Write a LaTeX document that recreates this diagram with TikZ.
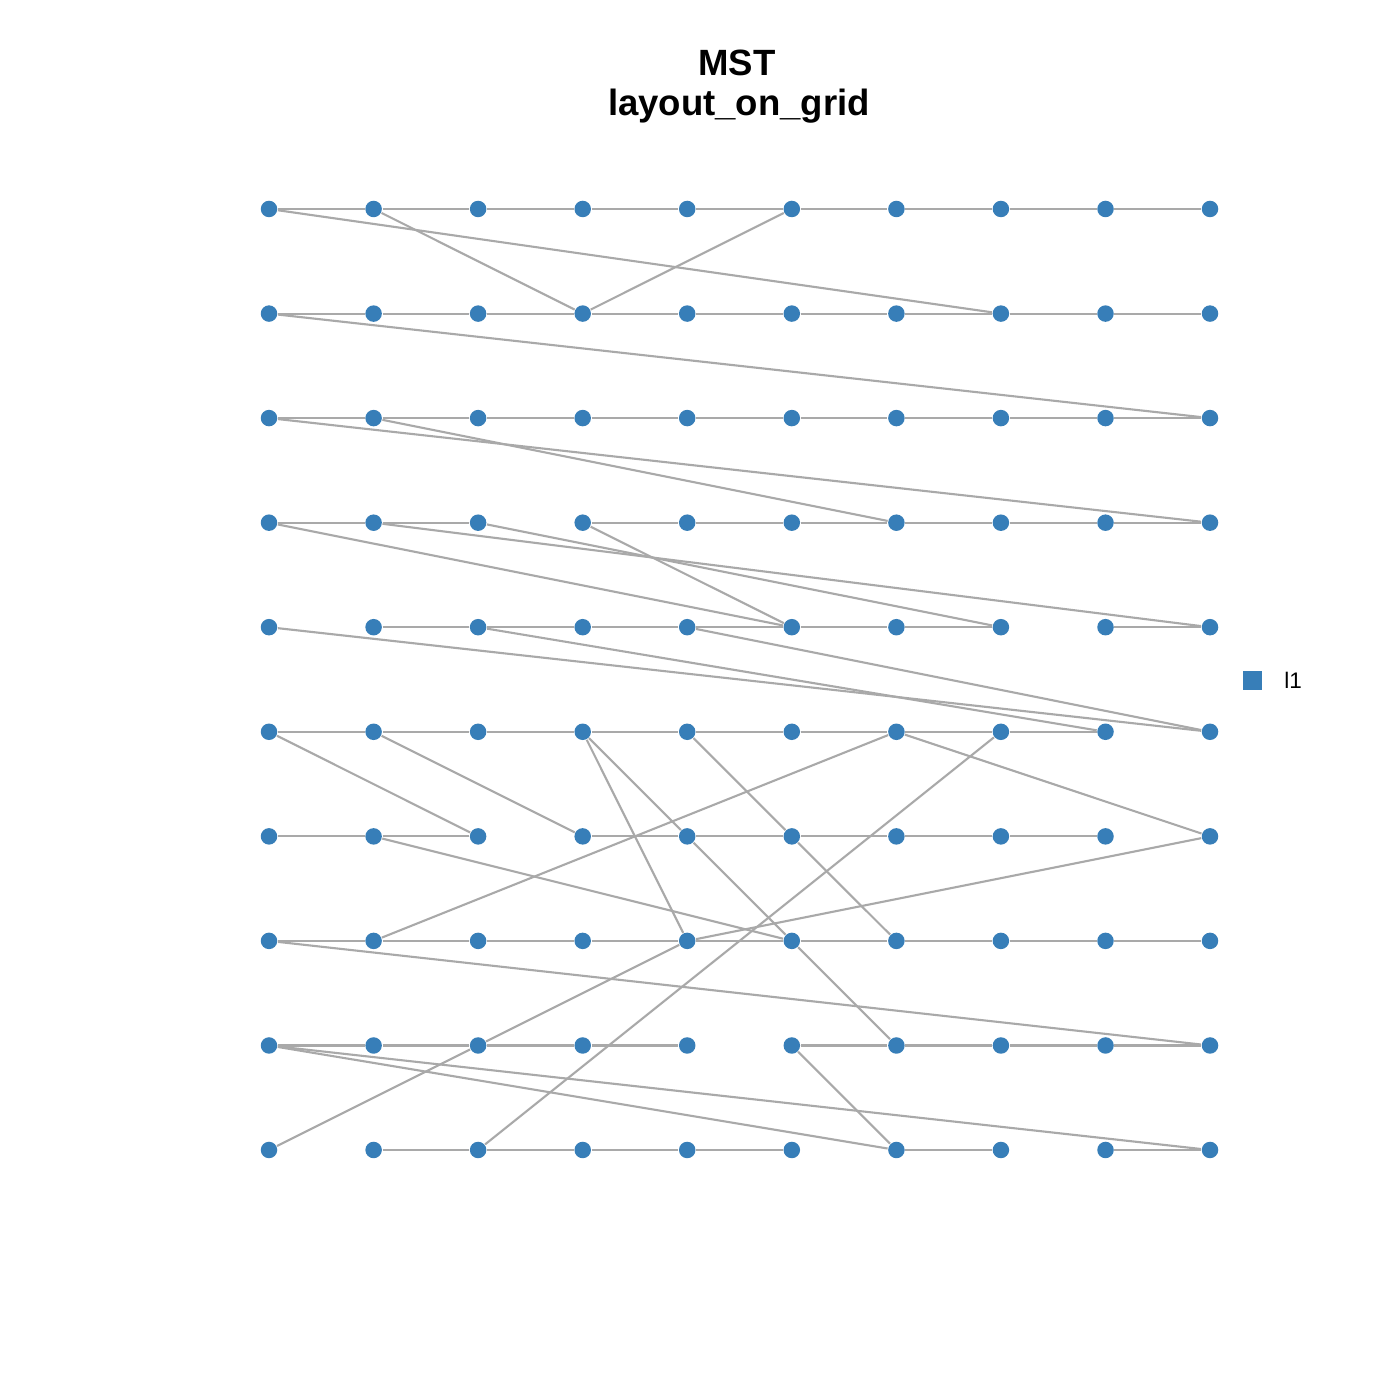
\documentclass[tikz,border=0pt]{standalone}
\usepackage{fontspec}
\setmainfont{Liberation Sans}
\definecolor{setblue}{HTML}{377EB8}
\definecolor{edgegrey}{HTML}{A9A9A9}
\tikzset{
  vertex/.style={circle, fill=setblue, draw=none, minimum size=0.165cm, inner sep=0pt},
  link/.style={draw=edgegrey, line width=0.6pt},
  keybox/.style={fill=setblue, draw=none, minimum size=0.19cm, inner sep=0pt}
}

\begin{document}
\begin{tikzpicture}
  \useasboundingbox[fill=white] (0cm,0cm) rectangle (14cm,14cm);
  \node[anchor=base, font=\bfseries\fontsize{10.4}{12}\selectfont] (title) at (7.37cm,13.24cm) {MST};
  \node[anchor=base, font=\bfseries\fontsize{10.4}{12}\selectfont] (subtitle) at (7.39cm,12.84cm) {layout\_on\_grid};
  \node[vertex] (n1-1) at (2.690cm,11.910cm) {};
  \node[vertex] (n1-2) at (3.736cm,11.910cm) {};
  \node[vertex] (n1-3) at (4.781cm,11.910cm) {};
  \node[vertex] (n1-4) at (5.827cm,11.910cm) {};
  \node[vertex] (n1-5) at (6.872cm,11.910cm) {};
  \node[vertex] (n1-6) at (7.918cm,11.910cm) {};
  \node[vertex] (n1-7) at (8.964cm,11.910cm) {};
  \node[vertex] (n1-8) at (10.009cm,11.910cm) {};
  \node[vertex] (n1-9) at (11.055cm,11.910cm) {};
  \node[vertex] (n1-10) at (12.100cm,11.910cm) {};
  \node[vertex] (n2-1) at (2.690cm,10.864cm) {};
  \node[vertex] (n2-2) at (3.736cm,10.864cm) {};
  \node[vertex] (n2-3) at (4.781cm,10.864cm) {};
  \node[vertex] (n2-4) at (5.827cm,10.864cm) {};
  \node[vertex] (n2-5) at (6.872cm,10.864cm) {};
  \node[vertex] (n2-6) at (7.918cm,10.864cm) {};
  \node[vertex] (n2-7) at (8.964cm,10.864cm) {};
  \node[vertex] (n2-8) at (10.009cm,10.864cm) {};
  \node[vertex] (n2-9) at (11.055cm,10.864cm) {};
  \node[vertex] (n2-10) at (12.100cm,10.864cm) {};
  \node[vertex] (n3-1) at (2.690cm,9.819cm) {};
  \node[vertex] (n3-2) at (3.736cm,9.819cm) {};
  \node[vertex] (n3-3) at (4.781cm,9.819cm) {};
  \node[vertex] (n3-4) at (5.827cm,9.819cm) {};
  \node[vertex] (n3-5) at (6.872cm,9.819cm) {};
  \node[vertex] (n3-6) at (7.918cm,9.819cm) {};
  \node[vertex] (n3-7) at (8.964cm,9.819cm) {};
  \node[vertex] (n3-8) at (10.009cm,9.819cm) {};
  \node[vertex] (n3-9) at (11.055cm,9.819cm) {};
  \node[vertex] (n3-10) at (12.100cm,9.819cm) {};
  \node[vertex] (n4-1) at (2.690cm,8.773cm) {};
  \node[vertex] (n4-2) at (3.736cm,8.773cm) {};
  \node[vertex] (n4-3) at (4.781cm,8.773cm) {};
  \node[vertex] (n4-4) at (5.827cm,8.773cm) {};
  \node[vertex] (n4-5) at (6.872cm,8.773cm) {};
  \node[vertex] (n4-6) at (7.918cm,8.773cm) {};
  \node[vertex] (n4-7) at (8.964cm,8.773cm) {};
  \node[vertex] (n4-8) at (10.009cm,8.773cm) {};
  \node[vertex] (n4-9) at (11.055cm,8.773cm) {};
  \node[vertex] (n4-10) at (12.100cm,8.773cm) {};
  \node[vertex] (n5-1) at (2.690cm,7.728cm) {};
  \node[vertex] (n5-2) at (3.736cm,7.728cm) {};
  \node[vertex] (n5-3) at (4.781cm,7.728cm) {};
  \node[vertex] (n5-4) at (5.827cm,7.728cm) {};
  \node[vertex] (n5-5) at (6.872cm,7.728cm) {};
  \node[vertex] (n5-6) at (7.918cm,7.728cm) {};
  \node[vertex] (n5-7) at (8.964cm,7.728cm) {};
  \node[vertex] (n5-8) at (10.009cm,7.728cm) {};
  \node[vertex] (n5-9) at (11.055cm,7.728cm) {};
  \node[vertex] (n5-10) at (12.100cm,7.728cm) {};
  \node[vertex] (n6-1) at (2.690cm,6.682cm) {};
  \node[vertex] (n6-2) at (3.736cm,6.682cm) {};
  \node[vertex] (n6-3) at (4.781cm,6.682cm) {};
  \node[vertex] (n6-4) at (5.827cm,6.682cm) {};
  \node[vertex] (n6-5) at (6.872cm,6.682cm) {};
  \node[vertex] (n6-6) at (7.918cm,6.682cm) {};
  \node[vertex] (n6-7) at (8.964cm,6.682cm) {};
  \node[vertex] (n6-8) at (10.009cm,6.682cm) {};
  \node[vertex] (n6-9) at (11.055cm,6.682cm) {};
  \node[vertex] (n6-10) at (12.100cm,6.682cm) {};
  \node[vertex] (n7-1) at (2.690cm,5.636cm) {};
  \node[vertex] (n7-2) at (3.736cm,5.636cm) {};
  \node[vertex] (n7-3) at (4.781cm,5.636cm) {};
  \node[vertex] (n7-4) at (5.827cm,5.636cm) {};
  \node[vertex] (n7-5) at (6.872cm,5.636cm) {};
  \node[vertex] (n7-6) at (7.918cm,5.636cm) {};
  \node[vertex] (n7-7) at (8.964cm,5.636cm) {};
  \node[vertex] (n7-8) at (10.009cm,5.636cm) {};
  \node[vertex] (n7-9) at (11.055cm,5.636cm) {};
  \node[vertex] (n7-10) at (12.100cm,5.636cm) {};
  \node[vertex] (n8-1) at (2.690cm,4.591cm) {};
  \node[vertex] (n8-2) at (3.736cm,4.591cm) {};
  \node[vertex] (n8-3) at (4.781cm,4.591cm) {};
  \node[vertex] (n8-4) at (5.827cm,4.591cm) {};
  \node[vertex] (n8-5) at (6.872cm,4.591cm) {};
  \node[vertex] (n8-6) at (7.918cm,4.591cm) {};
  \node[vertex] (n8-7) at (8.964cm,4.591cm) {};
  \node[vertex] (n8-8) at (10.009cm,4.591cm) {};
  \node[vertex] (n8-9) at (11.055cm,4.591cm) {};
  \node[vertex] (n8-10) at (12.100cm,4.591cm) {};
  \node[vertex] (n9-1) at (2.690cm,3.545cm) {};
  \node[vertex] (n9-2) at (3.736cm,3.545cm) {};
  \node[vertex] (n9-3) at (4.781cm,3.545cm) {};
  \node[vertex] (n9-4) at (5.827cm,3.545cm) {};
  \node[vertex] (n9-5) at (6.872cm,3.545cm) {};
  \node[vertex] (n9-6) at (7.918cm,3.545cm) {};
  \node[vertex] (n9-7) at (8.964cm,3.545cm) {};
  \node[vertex] (n9-8) at (10.009cm,3.545cm) {};
  \node[vertex] (n9-9) at (11.055cm,3.545cm) {};
  \node[vertex] (n9-10) at (12.100cm,3.545cm) {};
  \node[vertex] (n10-1) at (2.690cm,2.500cm) {};
  \node[vertex] (n10-2) at (3.736cm,2.500cm) {};
  \node[vertex] (n10-3) at (4.781cm,2.500cm) {};
  \node[vertex] (n10-4) at (5.827cm,2.500cm) {};
  \node[vertex] (n10-5) at (6.872cm,2.500cm) {};
  \node[vertex] (n10-6) at (7.918cm,2.500cm) {};
  \node[vertex] (n10-7) at (8.964cm,2.500cm) {};
  \node[vertex] (n10-8) at (10.009cm,2.500cm) {};
  \node[vertex] (n10-9) at (11.055cm,2.500cm) {};
  \node[vertex] (n10-10) at (12.100cm,2.500cm) {};
  \draw[link] (n1-1) -- (n1-2) -- (n1-3) -- (n1-4) -- (n1-5) -- (n1-6) -- (n1-7) -- (n1-8) -- (n1-9) -- (n1-10);
  \draw[link] (n2-1) -- (n2-2) -- (n2-3) -- (n2-4) -- (n2-5) -- (n2-6) -- (n2-7) -- (n2-8) -- (n2-9) -- (n2-10);
  \draw[link] (n3-1) -- (n3-2) -- (n3-3) -- (n3-4) -- (n3-5) -- (n3-6) -- (n3-7) -- (n3-8) -- (n3-9) -- (n3-10);
  \draw[link] (n4-1) -- (n4-2) -- (n4-3);
  \draw[link] (n4-4) -- (n4-5) -- (n4-6) -- (n4-7) -- (n4-8) -- (n4-9) -- (n4-10);
  \draw[link] (n5-2) -- (n5-3) -- (n5-4) -- (n5-5) -- (n5-6) -- (n5-7) -- (n5-8);
  \draw[link] (n5-9) -- (n5-10);
  \draw[link] (n6-1) -- (n6-2) -- (n6-3) -- (n6-4) -- (n6-5) -- (n6-6) -- (n6-7) -- (n6-8) -- (n6-9);
  \draw[link] (n7-1) -- (n7-2) -- (n7-3);
  \draw[link] (n7-4) -- (n7-5) -- (n7-6) -- (n7-7) -- (n7-8) -- (n7-9);
  \draw[link] (n8-1) -- (n8-2) -- (n8-3) -- (n8-4) -- (n8-5) -- (n8-6) -- (n8-7) -- (n8-8) -- (n8-9) -- (n8-10);
  \draw[link] (n9-1) -- (n9-2) -- (n9-3) -- (n9-4) -- (n9-5);
  \draw[link] (n9-6) -- (n9-7) -- (n9-8) -- (n9-9) -- (n9-10);
  \draw[link] (n10-2) -- (n10-3) -- (n10-4) -- (n10-5) -- (n10-6);
  \draw[link] (n10-7) -- (n10-8);
  \draw[link] (n10-9) -- (n10-10);
  \draw[link] (n1-1) -- (n2-8);
  \draw[link] (n1-2) -- (n2-4);
  \draw[link] (n2-4) -- (n1-6);
  \draw[link] (n2-1) -- (n3-10);
  \draw[link] (n3-1) -- (n4-10);
  \draw[link] (n3-2) -- (n4-7);
  \draw[link] (n4-1) -- (n5-6);
  \draw[link] (n4-2) -- (n5-10);
  \draw[link] (n4-3) -- (n5-8);
  \draw[link] (n4-4) -- (n5-6);
  \draw[link] (n5-1) -- (n6-10);
  \draw[link] (n5-3) -- (n6-9);
  \draw[link] (n5-5) -- (n6-10);
  \draw[link] (n6-1) -- (n7-3);
  \draw[link] (n6-2) -- (n7-4);
  \draw[link] (n6-4) -- (n8-5);
  \draw[link] (n6-4) -- (n7-5) -- (n8-6) -- (n9-7);
  \draw[link] (n6-5) -- (n7-6) -- (n8-7);
  \draw[link] (n6-7) -- (n7-10);
  \draw[link] (n6-7) -- (n8-2);
  \draw[link] (n6-8) -- (n10-3);
  \draw[link] (n7-2) -- (n8-6);
  \draw[link] (n7-10) -- (n8-5);
  \draw[link] (n8-1) -- (n9-10);
  \draw[link] (n8-5) -- (n9-3) -- (n10-1);
  \draw[link] (n9-1) -- (n10-7);
  \draw[link] (n9-1) -- (n10-10);
  \draw[link] (n9-6) -- (n10-7);
  \node[keybox] (key) at (12.525cm,7.195cm) {};
  \node[anchor=base west, font=\fontsize{6.4}{8}\selectfont] (keytext) at (12.72cm,7.11cm) {l1};
\end{tikzpicture}
\end{document}
